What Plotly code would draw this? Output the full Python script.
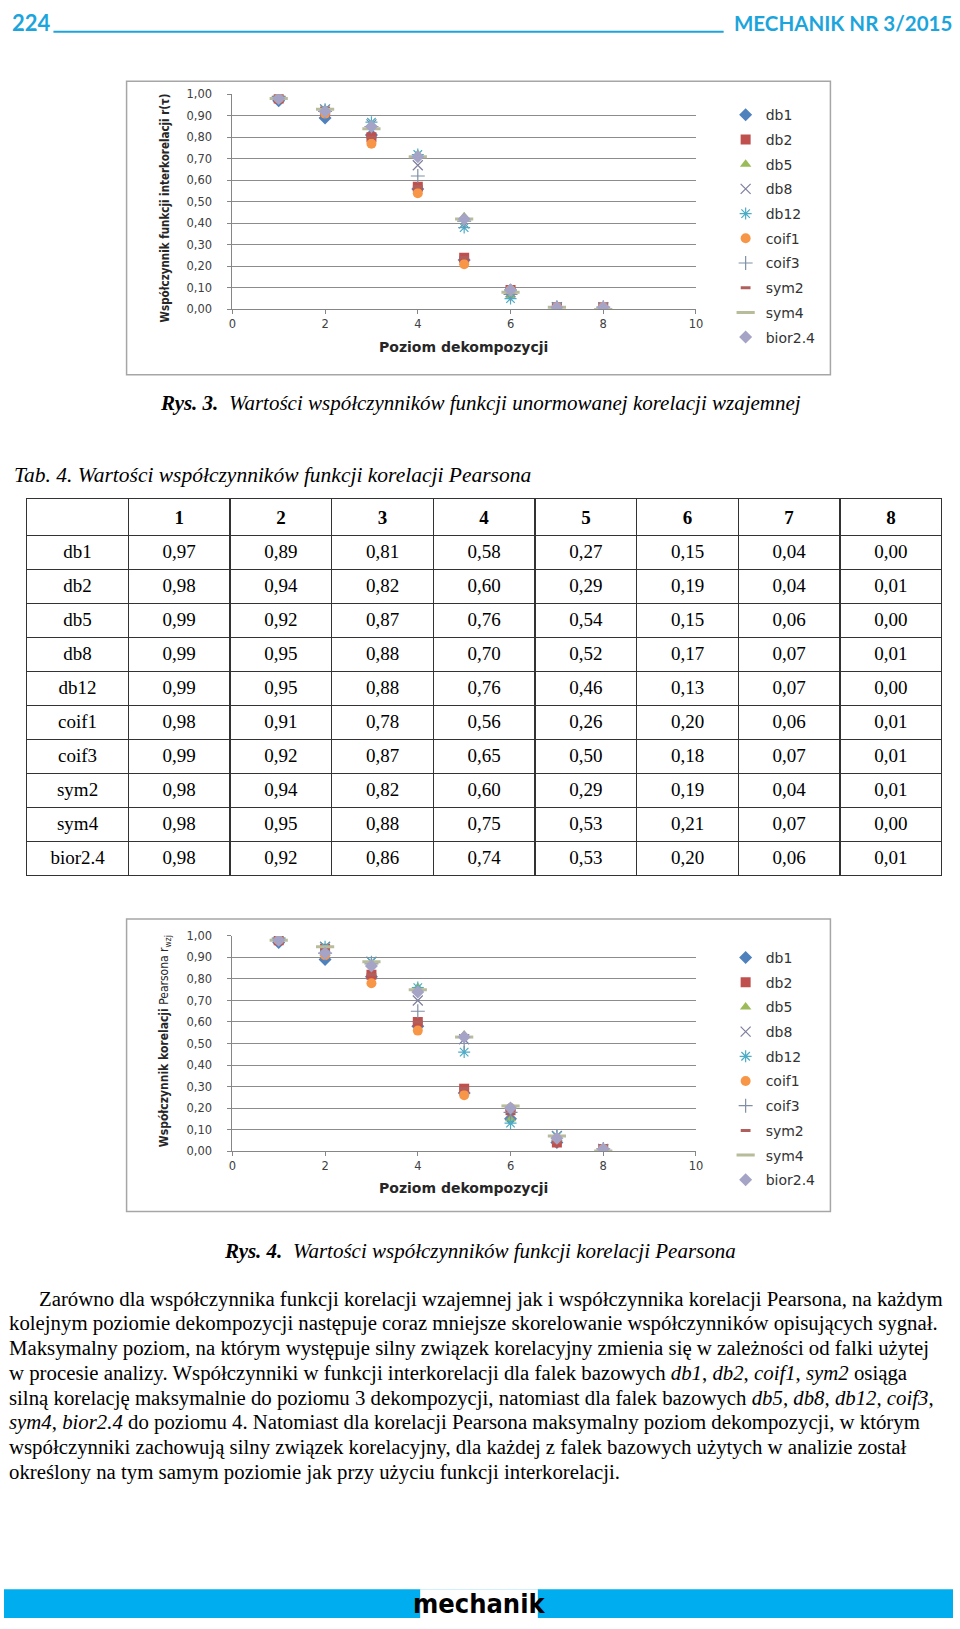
import plotly.graph_objects as go

W, H = 960, 1629

# data
levels = [1, 2, 3, 4, 5, 6, 7, 8]
wavelets = ["db1", "db2", "db5", "db8", "db12", "coif1", "coif3", "sym2", "sym4", "bior2.4"]

# Rys. 3 - unnormalized cross-correlation
db1_r = [0.97, 0.89, 0.81, 0.56, 0.23, 0.09, 0.01, 0.00]
db2_r = [0.98, 0.92, 0.80, 0.57, 0.24, 0.09, 0.01, 0.01]
db5_r = [0.99, 0.93, 0.85, 0.72, 0.43, 0.06, 0.01, 0.00]
db8_r = [0.99, 0.93, 0.86, 0.67, 0.40, 0.08, 0.01, 0.01]
db12_r = [0.99, 0.93, 0.87, 0.72, 0.38, 0.05, 0.01, 0.00]
coif1_r = [0.98, 0.91, 0.77, 0.54, 0.21, 0.09, 0.01, 0.01]
coif3_r = [0.99, 0.92, 0.85, 0.62, 0.41, 0.07, 0.01, 0.01]
sym2_r = [0.98, 0.92, 0.80, 0.57, 0.24, 0.09, 0.01, 0.01]
sym4_r = [0.98, 0.93, 0.84, 0.71, 0.42, 0.08, 0.01, 0.00]
bior24_r = [0.98, 0.92, 0.85, 0.71, 0.42, 0.09, 0.01, 0.01]

# Tab. 4 / Rys. 4 - Pearson correlation
db1_p = [0.97, 0.89, 0.81, 0.58, 0.27, 0.15, 0.04, 0.00]
db2_p = [0.98, 0.94, 0.82, 0.60, 0.29, 0.19, 0.04, 0.01]
db5_p = [0.99, 0.92, 0.87, 0.76, 0.54, 0.15, 0.06, 0.00]
db8_p = [0.99, 0.95, 0.88, 0.70, 0.52, 0.17, 0.07, 0.01]
db12_p = [0.99, 0.95, 0.88, 0.76, 0.46, 0.13, 0.07, 0.00]
coif1_p = [0.98, 0.91, 0.78, 0.56, 0.26, 0.20, 0.06, 0.01]
coif3_p = [0.99, 0.92, 0.87, 0.65, 0.50, 0.18, 0.07, 0.01]
sym2_p = [0.98, 0.94, 0.82, 0.60, 0.29, 0.19, 0.04, 0.01]
sym4_p = [0.98, 0.95, 0.88, 0.75, 0.53, 0.21, 0.07, 0.00]
bior24_p = [0.98, 0.92, 0.86, 0.74, 0.53, 0.20, 0.06, 0.01]

inter = [db1_r, db2_r, db5_r, db8_r, db12_r, coif1_r, coif3_r, sym2_r, sym4_r, bior24_r]
pearson = [db1_p, db2_p, db5_p, db8_p, db12_p, coif1_p, coif3_p, sym2_p, sym4_p, bior24_p]

markers = [
    dict(symbol="diamond", color="#4F81BD", size=10),
    dict(symbol="square", color="#C0504D", size=10),
    dict(symbol="triangle-up", color="#9BBB59", size=10),
    dict(symbol="x-thin", color="#8064A2", size=10, line=dict(width=1.2, color="#7F7FA0")),
    dict(symbol="asterisk", color="#4BACC6", size=10, line=dict(width=1.2, color="#4BACC6")),
    dict(symbol="circle", color="#F79646", size=10),
    dict(symbol="cross-thin", color="#7F8FA6", size=10, line=dict(width=1.2, color="#7F8FA6")),
    dict(symbol="line-ew", color="#B0605C", size=7, line=dict(width=3, color="#B0605C")),
    dict(symbol="line-ew", color="#B8BC9A", size=13, line=dict(width=3, color="#B8BC9A")),
    dict(symbol="diamond", color="#A5A3C6", size=10),
]


def px_x(x):
    return x / W


def px_y(y):
    return 1 - y / H


fig = go.Figure()

for i, name in enumerate(wavelets):
    fig.add_trace(go.Scatter(x=levels, y=inter[i], mode="markers", name=name, marker=markers[i],
                             xaxis="x", yaxis="y", legend="legend", legendgroup="a" + name))
for i, name in enumerate(wavelets):
    fig.add_trace(go.Scatter(x=levels, y=pearson[i], mode="markers", name=name, marker=markers[i],
                             xaxis="x2", yaxis="y2", legend="legend2", legendgroup="b" + name))

# table
header_vals = [" "] + ["<b>%d</b>" % l for l in levels]
cols = [wavelets] + [[("%.2f" % s[j]).replace(".", ",") for s in pearson] for j in range(len(levels))]
fig.add_trace(go.Table(
    domain=dict(x=[px_x(23), px_x(949)], y=[px_y(886), px_y(496)]),
    columnwidth=[1] * 9,
    header=dict(values=header_vals, height=34, align="center", fill_color="white",
                line=dict(color="#333333", width=1.5),
                font=dict(family="Liberation Serif", size=19, color="black")),
    cells=dict(values=cols, height=34, align="center", fill_color="white",
               line=dict(color="#333333", width=1.5),
               font=dict(family="Liberation Serif", size=19, color="black")),
))

tickfont = dict(family="DejaVu Sans", size=11.5, color="#404040")
axis_x = dict(range=[0, 10], dtick=2, showgrid=False, zeroline=False, showline=True,
              linecolor="#868686", ticks="outside", ticklen=4, tickcolor="#868686",
              tickfont=tickfont, fixedrange=True)
axis_y = dict(range=[0, 1], dtick=0.1, tickformat=".2f", showgrid=True, gridcolor="#8C8C8C",
              zeroline=False, showline=True, linecolor="#868686", ticks="outside", ticklen=4,
              tickcolor="#868686", tickfont=tickfont, ticklabelstandoff=13, fixedrange=True)

leg = dict(font=dict(family="DejaVu Sans", size=14, color="#333333"), bgcolor="rgba(0,0,0,0)",
           tracegroupgap=3.5, xanchor="left", yanchor="top", itemwidth=30)

fig.update_layout(
    width=W, height=H, margin=dict(l=0, r=0, t=0, b=0),
    paper_bgcolor="white", plot_bgcolor="white", separators=",.",
    xaxis=dict(axis_x, domain=[px_x(231), px_x(700)], anchor="y"),
    yaxis=dict(axis_y, domain=[px_y(305), px_y(88)], anchor="x"),
    xaxis2=dict(axis_x, domain=[px_x(231), px_x(700)], anchor="y2"),
    yaxis2=dict(axis_y, domain=[px_y(1154), px_y(937)], anchor="x2"),
    legend=dict(leg, x=px_x(730), y=px_y(93)),
    legend2=dict(leg, x=px_x(730), y=px_y(943)),
)

shapes = [
    # header rule
    dict(type="line", xref="paper", yref="paper", x0=px_x(50), x1=px_x(728), y0=px_y(25), y1=px_y(25),
         line=dict(color="#1CA5DC", width=2)),
    # chart frames
    dict(type="rect", xref="paper", yref="paper", x0=px_x(124), x1=px_x(836), y0=px_y(371), y1=px_y(75),
         line=dict(color="#A6A6A6", width=1.5)),
    dict(type="rect", xref="paper", yref="paper", x0=px_x(124), x1=px_x(836), y0=px_y(1215), y1=px_y(920),
         line=dict(color="#A6A6A6", width=1.5)),
    # footer bar
    dict(type="rect", xref="paper", yref="paper", x0=0, x1=1, y0=px_y(1625), y1=px_y(1596),
         fillcolor="#00AEEF", line=dict(width=0), layer="below"),
    dict(type="rect", xref="paper", yref="paper", x0=px_x(421), x1=px_x(540), y0=px_y(1625), y1=px_y(1596),
         fillcolor="white", line=dict(width=0), layer="below"),
]
fig.update_layout(shapes=shapes)


def ann(x, y, text, size, family="Liberation Serif", color="black", xanchor="left", angle=0):
    fig.add_annotation(xref="paper", yref="paper", x=px_x(x), y=px_y(y), text=text, showarrow=False,
                       xanchor=xanchor, yanchor="middle", textangle=angle,
                       font=dict(family=family, size=size, color=color))


ann(6, 16, "<b>224</b>", 22, family="Lato", color="#1CA5DC")
ann(961, 16, "<b>MECHANIK NR 3/2015</b>", 20.5, family="Lato", color="#1CA5DC", xanchor="right")

# chart titles
narrow = "Liberation Sans Narrow, DejaVu Sans Condensed, sans-serif"
ann(465, 343, "<b>Poziom dekompozycji</b>", 14, family="DejaVu Sans", color="#262626", xanchor="center")
ann(465, 1191, "<b>Poziom dekompozycji</b>", 14, family="DejaVu Sans", color="#262626", xanchor="center")
ann(163, 203, "<b>Współczynnik funkcji interkorelacji r(τ)</b>", 11.5, family=narrow,
    color="#262626", xanchor="center", angle=-90)
ann(163, 1043, "<b>Współczynnik korelacji</b> Pearsona r<sub>wzj</sub>", 12, family=narrow,
    color="#262626", xanchor="center", angle=-90)

# captions
ann(156, 399, "<b><i>Rys. 3.</i></b>  <i>Wartości współczynników funkcji unormowanej korelacji wzajemnej</i>", 21)
ann(8, 472, "<i>Tab. 4. Wartości współczynników funkcji korelacji Pearsona</i>", 21.5)
ann(221, 1255, "<b><i>Rys. 4.</i></b>  <i>Wartości współczynników funkcji korelacji Pearsona</i>", 21)

body = [
    "Zarówno dla współczynnika funkcji korelacji wzajemnej jak i współczynnika korelacji Pearsona, na każdym",
    "kolejnym poziomie dekompozycji następuje coraz mniejsze skorelowanie współczynników opisujących sygnał.",
    "Maksymalny poziom, na którym występuje silny związek korelacyjny zmienia się w zależności od falki użytej",
    "w procesie analizy. Współczynniki w funkcji interkorelacji dla falek bazowych <i>db1</i>, <i>db2</i>, <i>coif1</i>, <i>sym2</i> osiąga",
    "silną korelację maksymalnie do poziomu 3 dekompozycji, natomiast dla falek bazowych <i>db5, db8, db12, coif3</i>,",
    "<i>sym4</i>, <i>bior2.4</i> do poziomu 4. Natomiast dla korelacji Pearsona maksymalny poziom dekompozycji, w którym",
    "współczynniki zachowują silny związek korelacyjny, dla każdej z falek bazowych użytych w analizie został",
    "określony na tym samym poziomie jak przy użyciu funkcji interkorelacji.",
]
for k, line in enumerate(body):
    ann(33 if k == 0 else 3, 1303 + k * 24.9, line, 20.8)

# footer logo
ann(480, 1610, "<b>mechanik</b>", 27, family="DejaVu Sans Condensed", color="black", xanchor="center")

fig.write_html("out.html", config={"displayModeBar": False},
               post_script="document.body.style.margin='0';document.body.style.overflow='hidden';")
